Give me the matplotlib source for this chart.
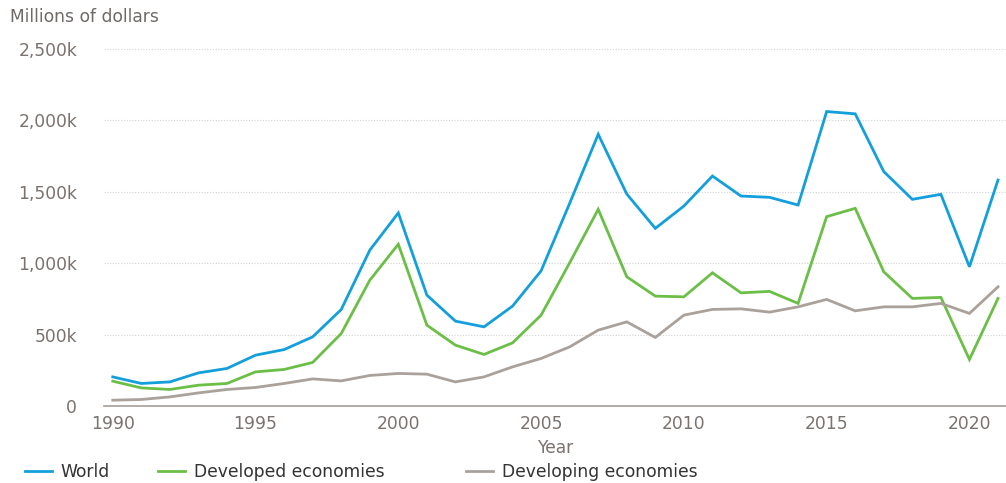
import numpy as np
import matplotlib
matplotlib.use("Agg")
import matplotlib.pyplot as plt
from matplotlib.ticker import FuncFormatter

plt.rcParams['font.family'] = ['DejaVu Sans']

years = list(range(1990, 2022))

# FDI flows, millions of dollars
world = [205, 159, 170, 233, 264, 357, 396, 485, 676, 1091, 1352,
         777, 595, 555, 700, 947, 1419, 1902, 1484, 1244, 1400,
         1610, 1470, 1461, 1407, 2061, 2045, 1641, 1447, 1482, 975, 1582]
developed = [175, 128, 117, 147, 159, 240, 257, 306, 508, 881, 1133,
             567, 427, 362, 443, 637, 1003, 1377, 905, 770, 765,
             933, 793, 803, 719, 1326, 1384, 940, 754, 761, 327, 754]
developing = [42, 47, 65, 93, 117, 131, 159, 191, 177, 215, 229,
              224, 170, 205, 275, 334, 415, 532, 590, 481, 637,
              677, 681, 658, 695, 747, 667, 695, 695, 719, 649, 835]

series_names = ["World", "Developed economies", "Developing economies"]
colors = ["#139fdb", "#6bbf47", "#aaa19b"]

fs = 12.3
grey_txt = "#7a726e"

fig = plt.figure(figsize=(10.06, 4.83), dpi=100)
ax = fig.add_axes([0.103, 0.159, 0.897, 0.74])

lines = []
for vals, name, c in zip([world, developed, developing], series_names, colors):
    ln, = ax.plot(years, np.array(vals) * 1000, color=c, lw=2.0, label=name,
                  solid_joinstyle='miter')
    lines.append(ln)

ax.set_xlim(1989.68, 2021.28)
ax.set_ylim(0, 2500000)
ax.set_yticks([0, 500000, 1000000, 1500000, 2000000, 2500000])
ax.yaxis.set_major_formatter(FuncFormatter(
    lambda v, p: "0" if v == 0 else "{:,.0f}k".format(v / 1000)))
ax.set_xticks([1990, 1995, 2000, 2005, 2010, 2015, 2020])

for s in ["top", "right", "left"]:
    ax.spines[s].set_visible(False)
ax.spines["bottom"].set_color("#a59e99")
ax.spines["bottom"].set_linewidth(1.2)

ax.grid(axis="y", color="#d2d2d2", linestyle=(0, (1, 1.5)), linewidth=0.8)
ax.set_axisbelow(True)
ax.tick_params(axis="both", length=0, labelsize=fs, labelcolor=grey_txt)
ax.tick_params(axis="y", pad=19)
ax.tick_params(axis="x", pad=6)

ax.set_xlabel("Year", fontsize=fs, color=grey_txt, labelpad=5)
fig.text(0.010, 0.965, "Millions of dollars", fontsize=fs, color="#6e6a68",
         va="center", ha="left")

# one legend per entry so each sits where the reference puts it
leg_x = [25, 158, 466]
for ln, x in zip(lines, leg_x):
    fig.legend(handles=[ln], loc="center left",
               bbox_to_anchor=(x / 1006, 0.023), frameon=False, fontsize=fs,
               handlelength=1.6, handletextpad=0.5, borderpad=0,
               borderaxespad=0, labelcolor="#333333")

fig.savefig("out.png", dpi=100)
